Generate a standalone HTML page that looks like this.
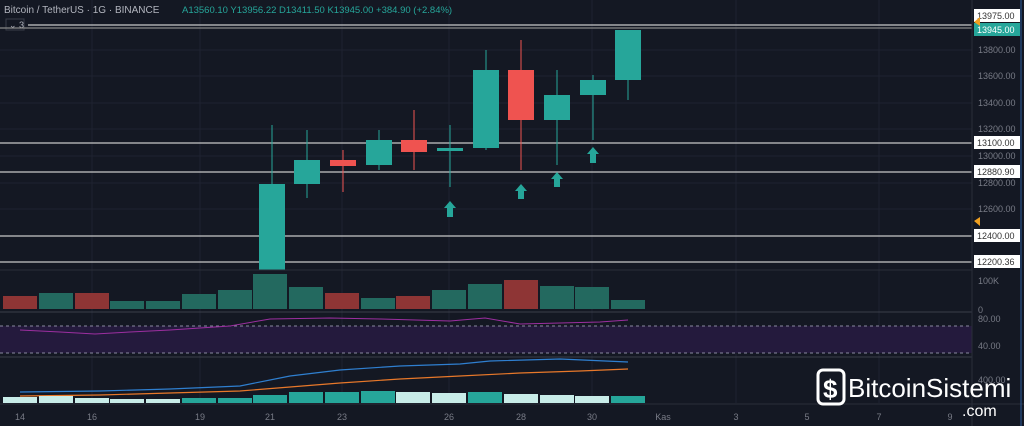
<!DOCTYPE html><html><head><style>body{margin:0;background:#131722;}svg{display:block;font-family:"Liberation Sans",sans-serif}</style></head><body>
<svg width="1024" height="426" viewBox="0 0 1024 426" xmlns="http://www.w3.org/2000/svg">
<rect width="1024" height="426" fill="#141823"/>
<g stroke="#1e2230" stroke-width="1">
<line x1="0" y1="50" x2="972" y2="50"/><line x1="0" y1="76" x2="972" y2="76"/><line x1="0" y1="103" x2="972" y2="103"/><line x1="0" y1="129" x2="972" y2="129"/><line x1="0" y1="156" x2="972" y2="156"/><line x1="0" y1="183" x2="972" y2="183"/><line x1="0" y1="209" x2="972" y2="209"/>
<line x1="92" y1="0" x2="92" y2="403"/><line x1="200" y1="0" x2="200" y2="403"/><line x1="342" y1="0" x2="342" y2="403"/><line x1="449" y1="0" x2="449" y2="403"/><line x1="592" y1="0" x2="592" y2="403"/><line x1="736" y1="0" x2="736" y2="403"/><line x1="879" y1="0" x2="879" y2="403"/>
</g>
<text x="4" y="13" fill="#b2b5be" font-size="10">Bitcoin / TetherUS · 1G · BINANCE</text>
<text x="182" y="13" fill="#26a69a" font-size="9.5">A13560.10 Y13956.22 D13411.50 K13945.00 +384.90 (+2.84%)</text>
<rect x="6" y="19" width="18" height="11" fill="#131722" stroke="#3a3e4a"/><text x="9" y="28" fill="#b2b5be" font-size="9">⌄ 3</text>
<g stroke="#c8c8c8" stroke-width="1.2">
<line x1="28" y1="25" x2="972" y2="25"/><line x1="0" y1="28" x2="972" y2="28" stroke="#888"/>
<line x1="0" y1="143" x2="972" y2="143"/><line x1="0" y1="172" x2="972" y2="172"/><line x1="0" y1="236" x2="972" y2="236"/><line x1="0" y1="262" x2="972" y2="262"/>
</g>
<g stroke-width="1">
<line x1="272" y1="125" x2="272" y2="270" stroke="#26a69a"/><rect x="259" y="184" width="26" height="86" fill="#26a69a"/>
<line x1="307" y1="130" x2="307" y2="198" stroke="#26a69a"/><rect x="294" y="160" width="26" height="24" fill="#26a69a"/>
<line x1="343" y1="150" x2="343" y2="192" stroke="#ef5350"/><rect x="330" y="160" width="26" height="6" fill="#ef5350"/>
<line x1="379" y1="130" x2="379" y2="170" stroke="#26a69a"/><rect x="366" y="140" width="26" height="25" fill="#26a69a"/>
<line x1="414" y1="110" x2="414" y2="170" stroke="#ef5350"/><rect x="401" y="140" width="26" height="12" fill="#ef5350"/>
<line x1="450" y1="125" x2="450" y2="187" stroke="#26a69a"/><rect x="437" y="148" width="26" height="3" fill="#26a69a"/>
<line x1="486" y1="50" x2="486" y2="150" stroke="#26a69a"/><rect x="473" y="70" width="26" height="78" fill="#26a69a"/>
<line x1="521" y1="40" x2="521" y2="170" stroke="#ef5350"/><rect x="508" y="70" width="26" height="50" fill="#ef5350"/>
<line x1="557" y1="70" x2="557" y2="165" stroke="#26a69a"/><rect x="544" y="95" width="26" height="25" fill="#26a69a"/>
<line x1="593" y1="75" x2="593" y2="140" stroke="#26a69a"/><rect x="580" y="80" width="26" height="15" fill="#26a69a"/>
<line x1="628" y1="30" x2="628" y2="100" stroke="#26a69a"/><rect x="615" y="30" width="26" height="50" fill="#26a69a"/>
</g>
<g fill="#26a69a">
<polygon points="450,201 456,208 453,208 453,217 447,217 447,208 444,208"/>
<polygon points="521,184 527,191 524,191 524,199 518,199 518,191 515,191"/>
<polygon points="557,172 563,179 560,179 560,187 554,187 554,179 551,179"/>
<polygon points="593,147 599,154 596,154 596,163 590,163 590,154 587,154"/>
</g>
<line x1="0" y1="270" x2="972" y2="270" stroke="#2a2e39"/>
<g>
<rect x="3" y="296" width="34" height="13" fill="#8e3535"/><rect x="39" y="293" width="34" height="16" fill="#23695f"/><rect x="75" y="293" width="34" height="16" fill="#8e3535"/><rect x="110" y="301" width="34" height="8" fill="#23695f"/><rect x="146" y="301" width="34" height="8" fill="#23695f"/><rect x="182" y="294" width="34" height="15" fill="#23695f"/><rect x="218" y="290" width="34" height="19" fill="#23695f"/><rect x="253" y="274" width="34" height="35" fill="#23695f"/><rect x="289" y="287" width="34" height="22" fill="#23695f"/><rect x="325" y="293" width="34" height="16" fill="#8e3535"/><rect x="361" y="298" width="34" height="11" fill="#23695f"/><rect x="396" y="296" width="34" height="13" fill="#8e3535"/><rect x="432" y="290" width="34" height="19" fill="#23695f"/><rect x="468" y="284" width="34" height="25" fill="#23695f"/><rect x="504" y="280" width="34" height="29" fill="#8e3535"/><rect x="540" y="286" width="34" height="23" fill="#23695f"/><rect x="575" y="287" width="34" height="22" fill="#23695f"/><rect x="611" y="300" width="34" height="9" fill="#23695f"/>
</g>
<line x1="0" y1="312" x2="972" y2="312" stroke="#3a3e4a"/>
<rect x="0" y="326" width="972" height="27" fill="#241a3d"/>
<line x1="0" y1="326" x2="972" y2="326" stroke="#8a8aa0" stroke-dasharray="3,3"/><line x1="0" y1="353" x2="972" y2="353" stroke="#8a8aa0" stroke-dasharray="3,3"/>
<polyline points="20,330 60,332 95,334 130,332 170,330 230,326 270,319 330,318 380,319 450,321 485,318 520,324 560,323 600,322 628,320" fill="none" stroke="#9c2fa0" stroke-width="1"/>
<line x1="0" y1="357" x2="972" y2="357" stroke="#3a3e4a"/>
<polyline points="20,392 100,391 170,389 240,386 290,376 340,370 400,366 460,364 490,361 560,359 628,362" fill="none" stroke="#2f7fd0" stroke-width="1.2"/>
<polyline points="20,396 100,395 170,393 240,391 290,387 340,383 400,379 460,376 520,373 580,371 628,369" fill="none" stroke="#e8782a" stroke-width="1.2"/>
<g>
<rect x="3" y="397" width="34" height="6" fill="#c8ece8"/><rect x="39" y="396" width="34" height="7" fill="#c8ece8"/><rect x="75" y="398" width="34" height="5" fill="#c8ece8"/><rect x="110" y="399" width="34" height="4" fill="#c8ece8"/><rect x="146" y="399" width="34" height="4" fill="#c8ece8"/><rect x="182" y="398" width="34" height="5" fill="#26a69a"/><rect x="218" y="398" width="34" height="5" fill="#26a69a"/><rect x="253" y="395" width="34" height="8" fill="#26a69a"/><rect x="289" y="392" width="34" height="11" fill="#26a69a"/><rect x="325" y="392" width="34" height="11" fill="#26a69a"/><rect x="361" y="391" width="34" height="12" fill="#26a69a"/><rect x="396" y="392" width="34" height="11" fill="#c8ece8"/><rect x="432" y="393" width="34" height="10" fill="#c8ece8"/><rect x="468" y="392" width="34" height="11" fill="#26a69a"/><rect x="504" y="394" width="34" height="9" fill="#c8ece8"/><rect x="540" y="395" width="34" height="8" fill="#c8ece8"/><rect x="575" y="396" width="34" height="7" fill="#c8ece8"/><rect x="611" y="396" width="34" height="7" fill="#26a69a"/>
</g>
<line x1="0" y1="404" x2="1024" y2="404" stroke="#2a2e39"/>
<line x1="972" y1="0" x2="972" y2="426" stroke="#2a2e39"/>
<line x1="1021" y1="0" x2="1021" y2="426" stroke="#2a5a9a"/>
<g fill="#787b86" font-size="9" text-anchor="middle">
<text x="20" y="420">14</text><text x="92" y="420">16</text><text x="200" y="420">19</text><text x="270" y="420">21</text><text x="342" y="420">23</text><text x="449" y="420">26</text><text x="521" y="420">28</text><text x="592" y="420">30</text><text x="663" y="420">Kas</text><text x="736" y="420">3</text><text x="807" y="420">5</text><text x="879" y="420">7</text><text x="950" y="420">9</text>
</g>
<g fill="#787b86" font-size="9">
<text x="978" y="53">13800.00</text><text x="978" y="79">13600.00</text><text x="978" y="106">13400.00</text><text x="978" y="132">13200.00</text><text x="978" y="159">13000.00</text><text x="978" y="186">12800.00</text><text x="978" y="212">12600.00</text><text x="978" y="284">100K</text><text x="978" y="313">0</text><text x="978" y="322">80.00</text><text x="978" y="349">40.00</text><text x="978" y="383">400.00</text>
</g>
<rect x="974" y="9" width="46" height="13" fill="#fff"/><text x="977" y="19" fill="#333" font-size="9">13975.00</text>
<rect x="974" y="23" width="46" height="13" fill="#26a69a"/><text x="977" y="33" fill="#fff" font-size="9">13945.00</text>
<rect x="974" y="136" width="46" height="13" fill="#fff"/><text x="977" y="146" fill="#333" font-size="9">13100.00</text>
<rect x="974" y="165" width="46" height="13" fill="#fff"/><text x="977" y="175" fill="#333" font-size="9">12880.90</text>
<rect x="974" y="229" width="46" height="13" fill="#fff"/><text x="977" y="239" fill="#333" font-size="9">12400.00</text>
<rect x="974" y="255" width="46" height="13" fill="#fff"/><text x="977" y="265" fill="#333" font-size="9">12200.36</text>
<polygon points="974,22 980,17 980,26" fill="#f0a020"/><polygon points="974,221 980,217 980,226" fill="#f0a020"/>
<g fill="#fff">
<rect x="818" y="370" width="26" height="34" rx="5" fill="none" stroke="#fff" stroke-width="3"/>
<text x="823" y="398" font-size="26" font-weight="bold">$</text>
<text x="848" y="397" font-size="26">BitcoinSistemi</text>
<text x="962" y="416" font-size="16">.com</text>
</g>
</svg></body></html>
